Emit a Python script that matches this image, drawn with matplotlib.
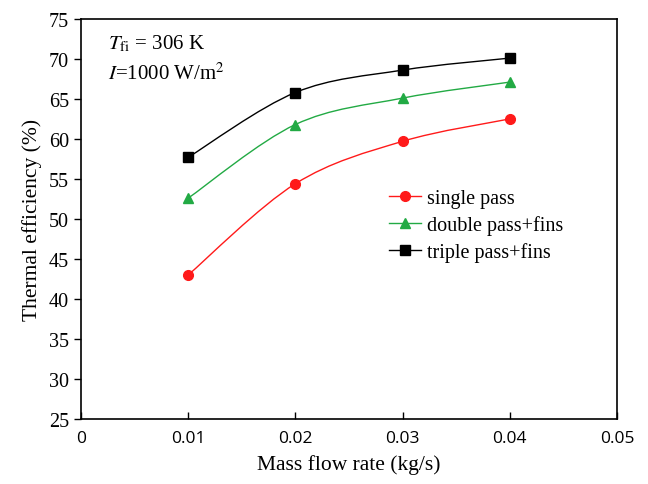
import matplotlib.pyplot as plt
from matplotlib.path import Path
from matplotlib.patches import PathPatch
import numpy as np

# Mass flow rate (kg/s) and thermal efficiency (%)
flow_rate = [0.01, 0.02, 0.03, 0.04]
single_pass = [43.0, 54.4, 59.7, 62.5]
double_pass_fins = [52.6, 61.8, 65.1, 67.1]
triple_pass_fins = [57.7, 65.8, 68.6, 70.1]

x_ticks = [0, 0.01, 0.02, 0.03, 0.04, 0.05]
x_tick_labels = ["0", "0.01", "0.02", "0.03", "0.04", "0.05"]
y_ticks = [25, 30, 35, 40, 45, 50, 55, 60, 65, 70, 75]

serif = "Liberation Serif"
sans = "Open Sans"


def smooth_path(xs, ys):
    # Catmull-Rom style cubic Bezier through the data points
    pts = np.column_stack([xs, ys])
    verts = [pts[0]]
    codes = [Path.MOVETO]
    n = len(pts)
    for i in range(n - 1):
        p0 = pts[i - 1] if i > 0 else pts[i]
        p1, p2 = pts[i], pts[i + 1]
        p3 = pts[i + 2] if i + 2 < n else pts[i + 1]
        c1 = p1 + (p2 - p0) / 6
        c2 = p2 - (p3 - p1) / 6
        verts += [c1, c2, p2]
        codes += [Path.CURVE4] * 3
    return Path(verts, codes)


fig = plt.figure(figsize=(6.48, 4.85), dpi=100)
ax = fig.add_axes([0.125, 0.134, 0.827, 0.825])

series = [
    (single_pass, "#ff1a1a", "o", "single pass"),
    (double_pass_fins, "#22aa44", "^", "double pass+fins"),
    (triple_pass_fins, "#000000", "s", "triple pass+fins"),
]
for ys, color, marker, label in series:
    ax.add_patch(PathPatch(smooth_path(flow_rate, ys), facecolor="none",
                           edgecolor=color, lw=1.0))
    ax.plot(flow_rate, ys, linestyle="none", marker=marker, color=color,
            markersize=7 if marker != "s" else 6.5)
    # legend proxy
    ax.plot([], [], color=color, lw=1.0, marker=marker, markersize=7, label=label)

ax.set_xlim(0, 0.05)
ax.set_ylim(25, 75)
ax.set_xticks(x_ticks)
ax.set_xticklabels(x_tick_labels, fontfamily=sans, fontsize=12.5)
ax.set_yticks(y_ticks)
ax.set_yticklabels([str(v) for v in y_ticks], fontfamily=serif, fontsize=14.5)
ax.tick_params(axis="x", direction="in", length=5, width=1, pad=8)
ax.tick_params(axis="y", direction="out", length=5, width=1)
for sp in ax.spines.values():
    sp.set_linewidth(1.2)

ax.set_xlabel("Mass flow rate (kg/s)", fontfamily=serif, fontsize=15.5, labelpad=6)
ax.set_ylabel("Thermal efficiency (%)", fontfamily=serif, fontsize=15.5, labelpad=5)

ax.text(0.0025, 72.0, r"$T_{\mathrm{fi}}$ = 306 K", fontfamily=serif, fontsize=15,
        va="center", math_fontfamily="stix")
ax.text(0.0025, 68.2, r"$I$=1000 W/m$^2$", fontfamily=serif, fontsize=15,
        va="center", math_fontfamily="stix")

ax.legend(loc="upper left", bbox_to_anchor=(0.54, 0.62), frameon=False,
          prop={"family": serif, "size": 14.5}, handlelength=1.6,
          handletextpad=0.3, labelspacing=0.35)

fig.savefig("out.png", dpi=100)
